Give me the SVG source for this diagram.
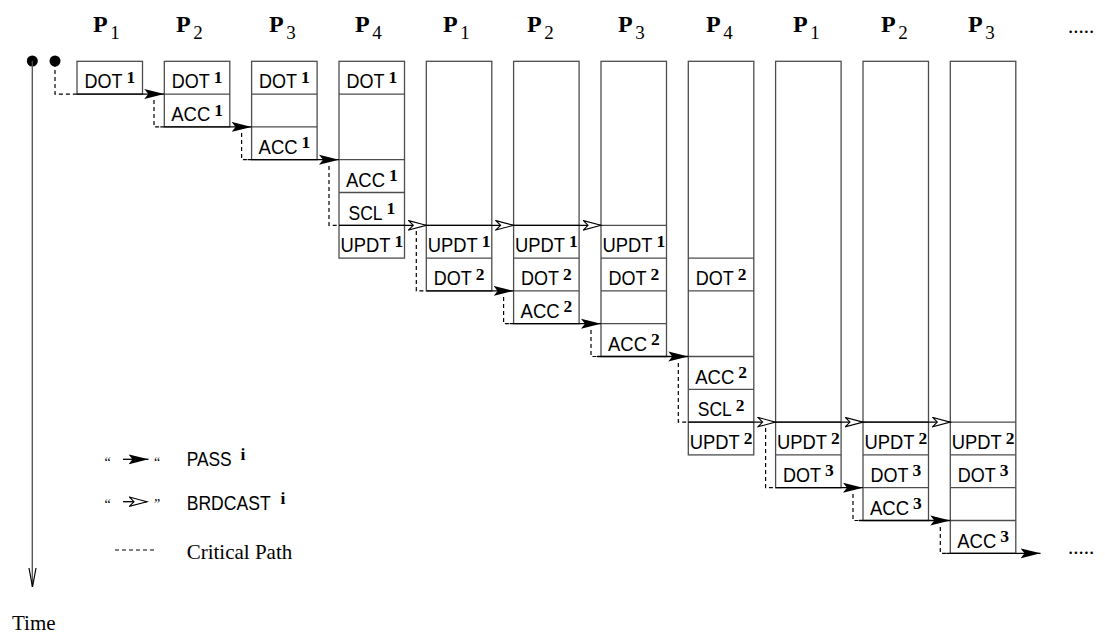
<svg xmlns="http://www.w3.org/2000/svg" width="1105" height="637" viewBox="0 0 1105 637">
<style>
.box{fill:#fff;stroke:#4d4d4d;stroke-width:1.3}
.div{stroke:#4d4d4d;stroke-width:1.3;fill:none}
.lbl{font-family:"Liberation Sans",Arial,sans-serif;font-size:20px;fill:#000}
.sup{font-family:"Liberation Serif","Times New Roman",serif;font-size:17.5px;font-weight:bold;fill:#000}
.proc{font-family:"Liberation Serif","Times New Roman",serif;font-size:24px;font-weight:bold;fill:#000}
.sub{font-size:19px;font-weight:normal}
.ser{font-family:"Liberation Serif","Times New Roman",serif;font-size:21px;fill:#000}
.q{font-family:"Liberation Serif","Times New Roman",serif;font-size:14px;fill:#000}
.cp{fill:none;stroke:#000;stroke-width:1.2;stroke-dasharray:4 3}
.pass{fill:none;stroke:#000;stroke-width:1.3;marker-end:url(#fa)}
.bc{fill:none;stroke:#000;stroke-width:1.3;marker-end:url(#ha)}
</style>
<defs>
<marker id="fa" markerUnits="userSpaceOnUse" markerWidth="21" markerHeight="11" viewBox="0 0 21 11" refX="20" refY="5.5" orient="auto">
<path d="M0,0.5 L20,5.5 L0,10.5 L4,5.5 z" fill="#000"/>
</marker>
<marker id="ha" markerUnits="userSpaceOnUse" markerWidth="20" markerHeight="11" viewBox="0 0 20 11" refX="18.5" refY="5.5" orient="auto">
<path d="M0.8,0.8 L18.5,5.5 L0.8,10.2 L5.5,5.5 z" fill="#fff" stroke="#000" stroke-width="1.1"/>
</marker>
</defs>

<g id="headers">
<text class="proc" x="93" y="32.3">P<tspan class="sub" dx="2.5" dy="6.7">1</tspan></text>
<text class="proc" x="176" y="32.3">P<tspan class="sub" dx="2.5" dy="6.7">2</tspan></text>
<text class="proc" x="269" y="32.3">P<tspan class="sub" dx="2.5" dy="6.7">3</tspan></text>
<text class="proc" x="355" y="32.3">P<tspan class="sub" dx="2.5" dy="6.7">4</tspan></text>
<text class="proc" x="443" y="32.3">P<tspan class="sub" dx="2.5" dy="6.7">1</tspan></text>
<text class="proc" x="527" y="32.3">P<tspan class="sub" dx="2.5" dy="6.7">2</tspan></text>
<text class="proc" x="618" y="32.3">P<tspan class="sub" dx="2.5" dy="6.7">3</tspan></text>
<text class="proc" x="706" y="32.3">P<tspan class="sub" dx="2.5" dy="6.7">4</tspan></text>
<text class="proc" x="793" y="32.3">P<tspan class="sub" dx="2.5" dy="6.7">1</tspan></text>
<text class="proc" x="881" y="32.3">P<tspan class="sub" dx="2.5" dy="6.7">2</tspan></text>
<text class="proc" x="968" y="32.3">P<tspan class="sub" dx="2.5" dy="6.7">3</tspan></text>
<text class="ser" x="1068" y="33">.....</text>
</g>

<g id="time-axis">
<circle cx="32.3" cy="61" r="5.5" fill="#000"/>
<circle cx="55" cy="61" r="5.5" fill="#000"/>
<line x1="32.3" y1="61" x2="32.3" y2="587" stroke="#4d4d4d" stroke-width="1.3"/>
<path d="M29,568 L32.5,587 L36,568" fill="none" stroke="#000" stroke-width="1.2"/>
<text class="ser" x="12" y="630">Time</text>
</g>

<g id="col0">
<rect class="box" x="77" y="61.3" width="65.5" height="32.8"/>
<text class="lbl" x="84.5" y="88.3" textLength="38" lengthAdjust="spacingAndGlyphs">DOT</text><text class="sup" x="126.5" y="82.7">1</text>
</g>

<g id="col1">
<rect class="box" x="164.3" y="61.3" width="65.5" height="65.6"/>
<path class="div" d="M164.3,94.1 H229.8"/>
<text class="lbl" x="171.8" y="88.3" textLength="38" lengthAdjust="spacingAndGlyphs">DOT</text><text class="sup" x="213.8" y="82.7">1</text>
<text class="lbl" x="171.3" y="121.1" textLength="39" lengthAdjust="spacingAndGlyphs">ACC</text><text class="sup" x="214.3" y="115.5">1</text>
</g>

<g id="col2">
<rect class="box" x="251.6" y="61.3" width="65.5" height="98.4"/>
<path class="div" d="M251.6,94.1 H317.1 M251.6,126.9 H317.1"/>
<text class="lbl" x="259.1" y="88.3" textLength="38" lengthAdjust="spacingAndGlyphs">DOT</text><text class="sup" x="301.1" y="82.7">1</text>
<text class="lbl" x="258.6" y="153.9" textLength="39" lengthAdjust="spacingAndGlyphs">ACC</text><text class="sup" x="301.6" y="148.3">1</text>
</g>

<g id="col3">
<rect class="box" x="339" y="61.3" width="65.5" height="196.8"/>
<path class="div" d="M339,94.1 H404.5 M339,159.7 H404.5 M339,192.5 H404.5 M339,225.3 H404.5"/>
<text class="lbl" x="346.5" y="88.3" textLength="38" lengthAdjust="spacingAndGlyphs">DOT</text><text class="sup" x="388.5" y="82.7">1</text>
<text class="lbl" x="346" y="186.7" textLength="39" lengthAdjust="spacingAndGlyphs">ACC</text><text class="sup" x="389" y="181.1">1</text>
<text class="lbl" x="348.5" y="219.5" textLength="34" lengthAdjust="spacingAndGlyphs">SCL</text><text class="sup" x="386.5" y="213.9">1</text>
<text class="lbl" x="340.5" y="252.3" textLength="50" lengthAdjust="spacingAndGlyphs">UPDT</text><text class="sup" x="394.5" y="246.7">1</text>
</g>

<g id="col4">
<rect class="box" x="426.3" y="61.3" width="65.5" height="229.6"/>
<path class="div" d="M426.3,225.3 H491.8 M426.3,258.1 H491.8"/>
<text class="lbl" x="427.8" y="252.3" textLength="50" lengthAdjust="spacingAndGlyphs">UPDT</text><text class="sup" x="481.8" y="246.7">1</text>
<text class="lbl" x="433.8" y="285.1" textLength="38" lengthAdjust="spacingAndGlyphs">DOT</text><text class="sup" x="475.8" y="279.5">2</text>
</g>

<g id="col5">
<rect class="box" x="513.6" y="61.3" width="65.5" height="262.4"/>
<path class="div" d="M513.6,225.3 H579.1 M513.6,258.1 H579.1 M513.6,290.9 H579.1"/>
<text class="lbl" x="515.1" y="252.3" textLength="50" lengthAdjust="spacingAndGlyphs">UPDT</text><text class="sup" x="569.1" y="246.7">1</text>
<text class="lbl" x="521.1" y="285.1" textLength="38" lengthAdjust="spacingAndGlyphs">DOT</text><text class="sup" x="563.1" y="279.5">2</text>
<text class="lbl" x="520.6" y="317.9" textLength="39" lengthAdjust="spacingAndGlyphs">ACC</text><text class="sup" x="563.6" y="312.3">2</text>
</g>

<g id="col6">
<rect class="box" x="601" y="61.3" width="65.5" height="295.2"/>
<path class="div" d="M601,225.3 H666.5 M601,258.1 H666.5 M601,290.9 H666.5 M601,323.7 H666.5"/>
<text class="lbl" x="602.5" y="252.3" textLength="50" lengthAdjust="spacingAndGlyphs">UPDT</text><text class="sup" x="656.5" y="246.7">1</text>
<text class="lbl" x="608.5" y="285.1" textLength="38" lengthAdjust="spacingAndGlyphs">DOT</text><text class="sup" x="650.5" y="279.5">2</text>
<text class="lbl" x="608" y="350.7" textLength="39" lengthAdjust="spacingAndGlyphs">ACC</text><text class="sup" x="651" y="345.1">2</text>
</g>

<g id="col7">
<rect class="box" x="688.3" y="61.3" width="65.5" height="393.6"/>
<path class="div" d="M688.3,258.1 H753.8 M688.3,290.9 H753.8 M688.3,356.5 H753.8 M688.3,389.3 H753.8 M688.3,422.1 H753.8"/>
<text class="lbl" x="695.8" y="285.1" textLength="38" lengthAdjust="spacingAndGlyphs">DOT</text><text class="sup" x="737.8" y="279.5">2</text>
<text class="lbl" x="695.3" y="383.5" textLength="39" lengthAdjust="spacingAndGlyphs">ACC</text><text class="sup" x="738.3" y="377.9">2</text>
<text class="lbl" x="697.8" y="416.3" textLength="34" lengthAdjust="spacingAndGlyphs">SCL</text><text class="sup" x="735.8" y="410.7">2</text>
<text class="lbl" x="689.8" y="449.1" textLength="50" lengthAdjust="spacingAndGlyphs">UPDT</text><text class="sup" x="743.8" y="443.5">2</text>
</g>

<g id="col8">
<rect class="box" x="775.6" y="61.3" width="65.5" height="426.4"/>
<path class="div" d="M775.6,422.1 H841.1 M775.6,454.9 H841.1"/>
<text class="lbl" x="777.1" y="449.1" textLength="50" lengthAdjust="spacingAndGlyphs">UPDT</text><text class="sup" x="831.1" y="443.5">2</text>
<text class="lbl" x="783.1" y="481.9" textLength="38" lengthAdjust="spacingAndGlyphs">DOT</text><text class="sup" x="825.1" y="476.3">3</text>
</g>

<g id="col9">
<rect class="box" x="863" y="61.3" width="65.5" height="459.2"/>
<path class="div" d="M863,422.1 H928.5 M863,454.9 H928.5 M863,487.7 H928.5"/>
<text class="lbl" x="864.5" y="449.1" textLength="50" lengthAdjust="spacingAndGlyphs">UPDT</text><text class="sup" x="918.5" y="443.5">2</text>
<text class="lbl" x="870.5" y="481.9" textLength="38" lengthAdjust="spacingAndGlyphs">DOT</text><text class="sup" x="912.5" y="476.3">3</text>
<text class="lbl" x="870" y="514.7" textLength="39" lengthAdjust="spacingAndGlyphs">ACC</text><text class="sup" x="913" y="509.1">3</text>
</g>

<g id="col10">
<rect class="box" x="950.3" y="61.3" width="65.5" height="492"/>
<path class="div" d="M950.3,422.1 H1015.8 M950.3,454.9 H1015.8 M950.3,487.7 H1015.8 M950.3,520.5 H1015.8"/>
<text class="lbl" x="951.8" y="449.1" textLength="50" lengthAdjust="spacingAndGlyphs">UPDT</text><text class="sup" x="1005.8" y="443.5">2</text>
<text class="lbl" x="957.8" y="481.9" textLength="38" lengthAdjust="spacingAndGlyphs">DOT</text><text class="sup" x="999.8" y="476.3">3</text>
<text class="lbl" x="957.3" y="547.5" textLength="39" lengthAdjust="spacingAndGlyphs">ACC</text><text class="sup" x="1000.3" y="541.9">3</text>
</g>

<g id="connectors">
<path class="cp" d="M55,63 V94.1 H77"/>
<path class="cp" d="M154,100 V126.9 H160.3"/>
<path class="cp" d="M241.6,133 V159.7 H247.6"/>
<path class="cp" d="M329,166 V225.3 H339"/>
<path class="cp" d="M416.3,231 V290.9 H426.3"/>
<path class="cp" d="M503.6,297 V323.7 H509.6"/>
<path class="cp" d="M591,330 V356.5 H597"/>
<path class="cp" d="M678.3,363 V422.1 H688.3"/>
<path class="cp" d="M765.6,428 V487.7 H775.6"/>
<path class="cp" d="M853,494 V520.5 H859"/>
<path class="cp" d="M940.3,527 V553.3 H946.3"/>

<path class="pass" d="M77,94.1 H164.3"/>
<path class="pass" d="M160.3,126.9 H251.6"/>
<path class="pass" d="M247.6,159.7 H339"/>
<path class="pass" d="M426.3,290.9 H513.6"/>
<path class="pass" d="M509.6,323.7 H601"/>
<path class="pass" d="M597,356.5 H688.3"/>
<path class="pass" d="M775.6,487.7 H863"/>
<path class="pass" d="M859,520.5 H950.3"/>
<path class="pass" d="M946.3,553.3 H1040.5"/>

<path class="bc" d="M339,225.3 H426.3"/>
<path class="bc" d="M426.3,225.3 H513.6"/>
<path class="bc" d="M513.6,225.3 H601"/>
<path class="bc" d="M688.3,422.1 H775.6"/>
<path class="bc" d="M775.6,422.1 H863"/>
<path class="bc" d="M863,422.1 H950.3"/>
<text class="ser" x="1068" y="554" font-size="22">.....</text>
</g>

<g id="legend">
<text class="q" x="104.5" y="467">“</text>
<path class="pass" d="M123,459.3 H148.5"/>
<text class="q" x="154" y="467">“</text>
<text class="lbl" x="186.7" y="465.7" textLength="45" lengthAdjust="spacingAndGlyphs">PASS</text>
<text class="sup" x="240.5" y="459.8">i</text>
<text class="q" x="104.5" y="509">“</text>
<path class="bc" d="M123,501.7 H147"/>
<text class="q" x="154" y="509">”</text>
<text class="lbl" x="186.7" y="510" textLength="84" lengthAdjust="spacingAndGlyphs">BRDCAST</text>
<text class="sup" x="280.5" y="503.5">i</text>
<path class="cp" d="M115,550 H155"/>
<text class="ser" x="186.7" y="559">Critical Path</text>
</g>
</svg>
